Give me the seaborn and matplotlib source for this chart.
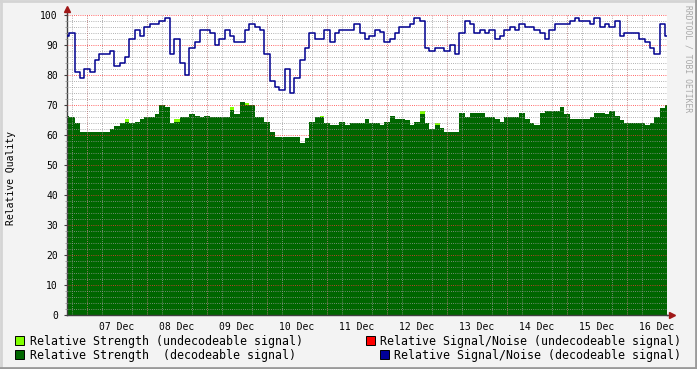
import pandas as pd
import matplotlib
matplotlib.use("Agg")
import matplotlib.pyplot as plt
import matplotlib.dates as mdates
from matplotlib.ticker import MultipleLocator
from matplotlib.patches import Rectangle
from matplotlib.lines import Line2D
import seaborn as sns

# one sample every 2 hours, from 06 Dec 16:00 to 16 Dec 16:00
start = "2008-12-06 16:00"

strength = [66.5, 66, 64, 61, 61, 61, 61, 61, 61, 62,
            63, 64, 64.5, 64, 64.5, 65.5, 66, 66, 67, 70,
            69.5, 64, 64.5, 66, 66, 67, 66.5, 66, 66.5, 66,
            66, 66, 66, 68.5, 67, 71, 70, 70, 66, 66,
            64.5, 61, 59.5, 59.5, 59.5, 59.5, 59.5, 57.5, 59, 64.5,
            66, 66, 64, 63.5, 63.5, 64.5, 63.5, 64, 64, 64,
            65.5, 64, 64, 63.5, 64.5, 66.5, 65.5, 65.5, 65, 63.5,
            64.5, 67, 64, 62, 63.5, 62.5, 61, 61, 61, 67.5,
            66, 67.5, 67.5, 67.5, 66, 66, 65.5, 64.5, 66, 66,
            66, 67.5, 65.5, 64, 63.5, 67.5, 68, 68, 68, 69.5,
            67, 65.5, 65.5, 65.5, 65.5, 66, 67.5, 67.5, 67, 68,
            66.5, 65, 64, 64, 64, 64, 63.5, 64, 66, 69,
            70]

snr = [93, 94, 81, 79, 82, 81, 85, 87, 87, 88,
       83, 84, 86, 92, 95, 93, 96, 97, 97, 98,
       99, 87, 92, 84, 80, 89, 91, 95, 95, 94,
       90, 92, 95, 93, 91, 91, 95, 97, 96, 95,
       87, 78, 76, 75, 82, 74, 79, 85, 89, 94,
       92, 92, 95, 91, 94, 95, 95, 95, 97, 94,
       92, 93, 95, 94.5, 91, 92, 94, 96, 96, 97,
       99, 98, 89, 88, 89, 89, 88, 90, 87, 94,
       98, 97, 94, 95, 94, 95, 92, 93, 95, 96,
       95, 97, 96, 96, 95, 94, 92, 95, 97, 97,
       97, 98, 99, 98, 98, 97, 99, 96, 97, 96,
       98, 93, 94, 94, 94, 92, 91, 89, 87, 97,
       93]

# undecodeable strength, only a few tiny bits on top of the green
undec_idx = [12, 22, 33, 36, 51, 71, 74]
undec_val = [0.8, 0.7, 1.0, 0.7, 0.5, 1.0, 0.5]

times = pd.date_range(start, periods=len(strength), freq="2h")
df = pd.DataFrame({"time": times, "strength": strength, "snr": snr})
df["undec"] = 0.0
df.loc[undec_idx, "undec"] = undec_val

W, H = 697, 369
plt.rcParams["font.family"] = "DejaVu Sans Mono"

fig = plt.figure(figsize=(W / 100, H / 100), dpi=100, facecolor="#f3f3f3")
ax = fig.add_axes([67 / W, 54 / H, 600 / W, 300 / H], facecolor="white")

green = "#006600"
lime = "#80ff00"
blue = "#000090"

ax.fill_between(df["time"], 0, df["strength"], step="mid", color=green, lw=0, zorder=1)
ax.fill_between(df["time"], df["strength"], df["strength"] + df["undec"],
                step="mid", color=lime, lw=0, zorder=1)
sns.lineplot(data=df, x="time", y="snr", ax=ax, color=blue, lw=1.1,
             drawstyle="steps-mid", zorder=3, legend=False)

ax.set_xlim(pd.Timestamp(start), pd.Timestamp("2008-12-16 16:00"))
ax.set_ylim(0, 100)

# grid, drawn over the area like rrdtool does
ax.set_axisbelow(False)
ax.yaxis.set_major_locator(MultipleLocator(10))
ax.yaxis.set_minor_locator(MultipleLocator(2))
ax.xaxis.set_major_locator(mdates.HourLocator(byhour=[12]))
ax.xaxis.set_major_formatter(mdates.DateFormatter("%d %b"))
ax.xaxis.set_minor_locator(mdates.HourLocator(byhour=[0, 6, 12, 18]))
minor_c = (0.6, 0.6, 0.6, 0.3)
major_c = (1.0, 0.2, 0.2, 0.35)
dots = (0, (1, 1.6))
ax.grid(which="minor", axis="both", color=minor_c, lw=0.6, ls=dots)
ax.grid(which="major", axis="y", color=major_c, lw=0.6, ls=dots)
ax.grid(which="major", axis="x", visible=False)
for d in pd.date_range("2008-12-07", "2008-12-16", freq="D"):
    ax.axvline(d, color=major_c, lw=0.6, ls=dots, zorder=2.6)

for s in ["top", "right"]:
    ax.spines[s].set_visible(False)
for s in ["left", "bottom"]:
    ax.spines[s].set_color("#404040")
    ax.spines[s].set_linewidth(1)

ax.tick_params(axis="x", which="major", length=0, pad=5, labelsize=7)
ax.tick_params(axis="x", which="minor", length=0)
ax.tick_params(axis="y", which="major", length=2.5, width=0.8, color="#404040", pad=4, labelsize=7)
ax.tick_params(axis="y", which="minor", length=1.5, width=0.6, color="#909090")
ax.set_xlabel("")
ax.set_ylabel("")

# axis arrows
arrow_c = "#a01818"
ax.add_line(Line2D([0, 0], [1, 1.02], transform=ax.transAxes, color="#404040", lw=1, clip_on=False))
ax.plot([0], [1.02], marker="^", ms=4.5, color=arrow_c, transform=ax.transAxes, clip_on=False)
ax.add_line(Line2D([1, 1.006], [0, 0], transform=ax.transAxes, color="#404040", lw=1, clip_on=False))
ax.plot([1.008], [0], marker=">", ms=4.5, color=arrow_c, transform=ax.transAxes, clip_on=False)

fig.text(11 / W, 1 - 178 / H, "Relative Quality", rotation=90, ha="center", va="center", fontsize=7)
fig.text(688 / W, 1 - 5 / H, "RRDTOOL / TOBI OETIKER", rotation=270, ha="center", va="top",
         fontsize=5.8, color="#a8a8a8")

# legend
def square(x, y, c):
    fig.patches.append(Rectangle((x / W, 1 - (y + 9) / H), 9 / W, 9 / H, transform=fig.transFigure,
                                 facecolor=c, edgecolor="black", lw=0.7))

square(15, 336, lime)
fig.text(30 / W, 1 - 341 / H, "Relative Strength (undecodeable signal)", va="center", fontsize=8.4)
square(15, 350, green)
fig.text(30 / W, 1 - 355 / H, "Relative Strength  (decodeable signal)", va="center", fontsize=8.4)
square(366, 336, "#ff0000")
fig.text(681 / W, 1 - 341 / H, "Relative Signal/Noise (undecodeable signal)", ha="right", va="center", fontsize=8.4)
square(380, 350, "#000099")
fig.text(681 / W, 1 - 355 / H, "Relative Signal/Noise (decodeable signal)", ha="right", va="center", fontsize=8.4)

# border shading
fig.add_artist(Line2D([0, 1], [1 - 1 / H, 1 - 1 / H], transform=fig.transFigure, color="#d4d4d4", lw=2))
fig.add_artist(Line2D([1 / W, 1 / W], [0, 1], transform=fig.transFigure, color="#d4d4d4", lw=2))
fig.add_artist(Line2D([0, 1], [1.5 / H, 1.5 / H], transform=fig.transFigure, color="#9a9a9a", lw=2))
fig.add_artist(Line2D([1 - 1.5 / W, 1 - 1.5 / W], [0, 1], transform=fig.transFigure, color="#9a9a9a", lw=2))

fig.savefig("out.png", dpi=100, facecolor=fig.get_facecolor())
